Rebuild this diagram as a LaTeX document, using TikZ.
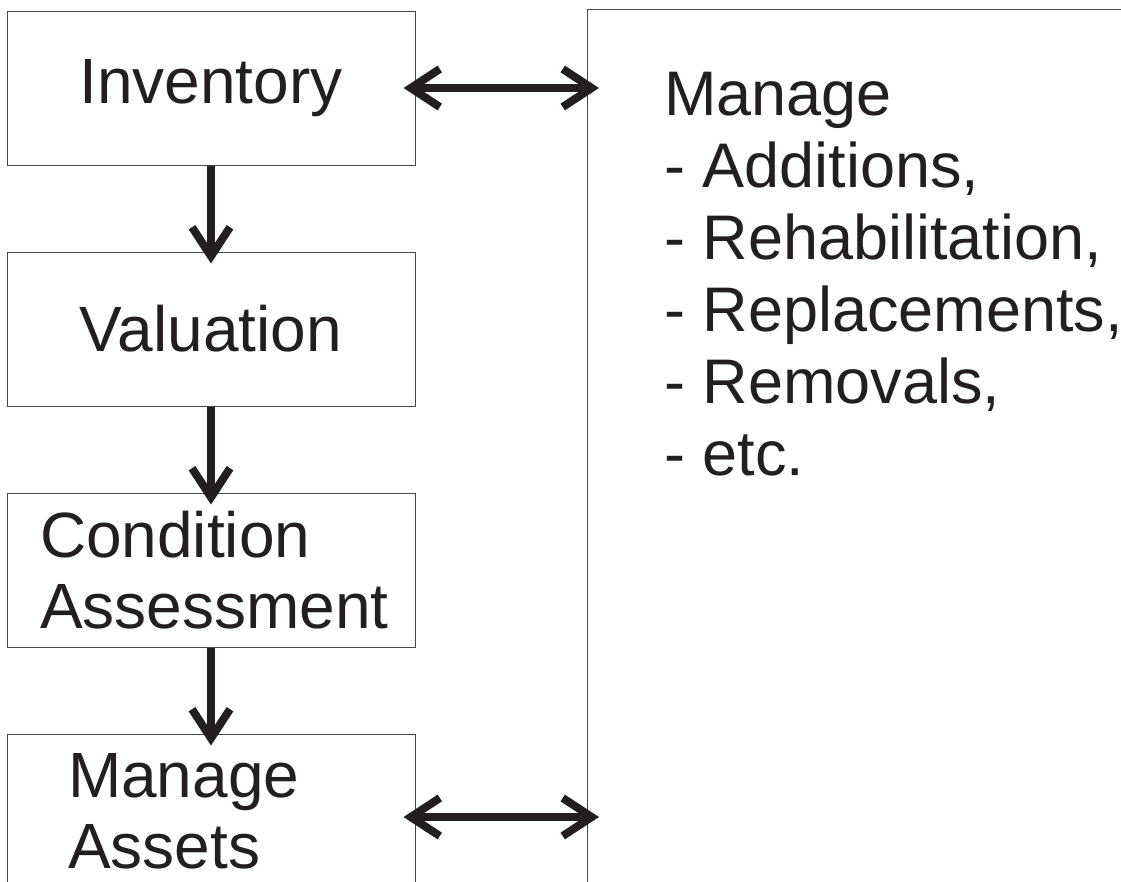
\documentclass[tikz,border=0pt]{standalone}
\usepackage{fontspec}
\setmainfont{Liberation Sans}
\usepackage{tikz}
\usetikzlibrary{arrows.meta, calc, positioning}
\usepackage{xcolor}
\definecolor{InkBlack}{RGB}{35, 31, 32}
\definecolor{EdgeGray}{RGB}{70, 70, 70}
\tikzset{%
  stage/.style={%
    rectangle,%
    minimum width=408pt,%
    minimum height=154pt,%
    inner sep=0pt,%
    draw=EdgeGray,%
    line width=1pt,%
    text=InkBlack,%
    font={\fontsize{64pt}{71pt}\selectfont},%
    align=center%
  },
  area/.style={%
    rectangle,%
    anchor=north west,%
    minimum width=600pt,%
    minimum height=950pt,%
    draw=EdgeGray,%
    line width=1pt,%
  },
  listing/.style={%
    anchor=north west,%
    inner sep=0pt,%
    text=InkBlack,%
    font={\fontsize{63pt}{72pt}\selectfont},%
    align=left%
  },
  flow_path/.style={%
    color=InkBlack,%
    line width=8pt,%
  },
  arrow/.style={-{Straight Barb[length=29pt, width=38pt]}},
  twoway/.style={{Straight Barb[length=29pt, width=38pt]}-{Straight Barb[length=29pt, width=38pt]}},
}

\begin{document}
\begin{tikzpicture}[x=1pt, y=1pt]
    \useasboundingbox (0, 0) rectangle (1121, -881);

    \node[stage] at (211, -88) (Inventory) {Inventory};
    \node[stage, below = 86pt of Inventory] (Valuation) {Valuation};
    \node[stage, below = 86pt of Valuation, text width=342pt, align=left] (Condition) {Condition\\Assessment};
    \node[stage, below = 86pt of Condition, text width=286pt, align=left] (Assets) {Manage\\Assets};
    \node[area] at (587, -9) (Actions) {};
    \node[listing] at ($(Actions.north west) + (77, -63)$) (ActionList)
      {Manage\\- Additions,\\- Rehabilitation,\\- Replacements,\\- Removals,\\- etc.};

    \draw[flow_path, arrow, shorten >=-12pt]
      (Inventory.south)
      --
      (Valuation.north);
    \draw[flow_path, arrow, shorten >=-12pt]
      (Valuation.south)
      --
      (Condition.north);
    \draw[flow_path, arrow, shorten >=-12pt]
      (Condition.south)
      --
      (Assets.north);
    \draw[flow_path, twoway, shorten <=-12pt, shorten >=-12pt]
      (Inventory.east)
      --
      (Inventory.east -| Actions.west);
    \draw[flow_path, twoway, shorten <=-12pt, shorten >=-12pt]
      ([yshift=-6pt]Assets.east)
      --
      ([yshift=-6pt]Assets.east -| Actions.west);

  \end{tikzpicture}
\end{document}
